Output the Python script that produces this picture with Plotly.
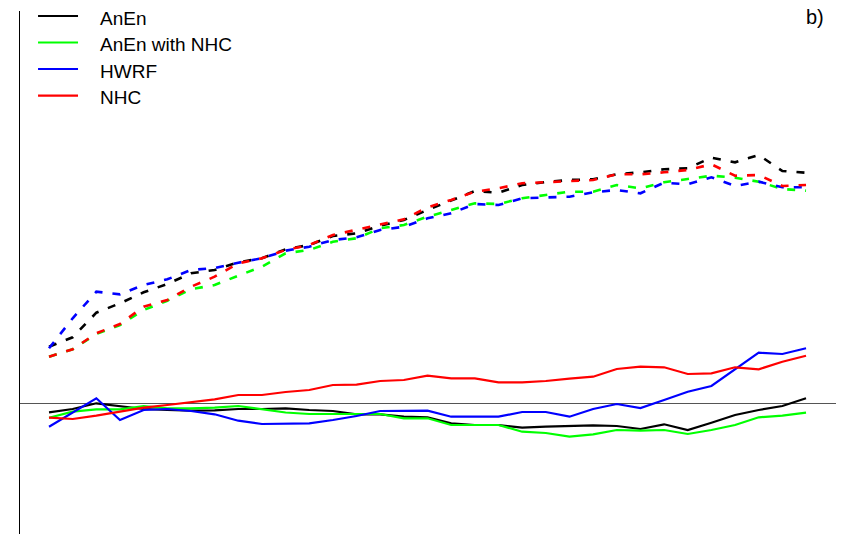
import plotly.graph_objects as go

# Forecast lead time (h)
lead_hours = [0, 3, 6, 9, 12, 15, 18, 21, 24, 27, 30, 33, 36, 39, 42, 45, 48,
              51, 54, 57, 60, 63, 66, 69, 72, 75, 78, 81, 84, 87, 90, 93, 96]

# Bias (solid lines)
anen_bias = [-0.93, -0.60, -0.03, -0.30, -0.60, -0.70, -0.77, -0.73, -0.60, -0.60, -0.53,
             -0.70, -0.80, -1.13, -1.13, -1.37, -1.43, -2.03, -2.20, -2.20, -2.47, -2.37,
             -2.30, -2.23, -2.30, -2.60, -2.13, -2.70, -1.97, -1.20, -0.70, -0.30, 0.47]
anen_nhc_bias = [-1.47, -0.87, -0.63, -0.63, -0.30, -0.53, -0.53, -0.47, -0.30, -0.63, -0.95,
                 -1.10, -1.10, -1.10, -1.10, -1.53, -1.53, -2.20, -2.20, -2.20, -2.87, -3.00,
                 -3.37, -3.13, -2.70, -2.77, -2.70, -3.10, -2.70, -2.20, -1.43, -1.27, -0.97]
hwrf_bias = [-2.37, -0.97, 0.47, -1.70, -0.70, -0.60, -0.80, -1.13, -1.77, -2.10, -2.03,
             -2.03, -1.70, -1.30, -0.80, -0.77, -0.77, -1.37, -1.37, -1.37, -0.90, -0.90,
             -1.37, -0.60, -0.10, -0.50, 0.30, 1.13, 1.70, 3.37, 5.03, 4.90, 5.47]
nhc_bias = [-1.47, -1.60, -1.27, -0.87, -0.47, -0.20, 0.07, 0.37, 0.80, 0.80, 1.10,
            1.30, 1.80, 1.83, 2.20, 2.30, 2.73, 2.47, 2.47, 2.07, 2.07, 2.20,
            2.43, 2.63, 3.40, 3.63, 3.57, 2.90, 2.97, 3.57, 3.37, 4.13, 4.73]

# Mean absolute error (dashed lines)
anen_mae = [5.63, 6.57, 9.03, 9.97, 11.07, 11.90, 12.97, 13.30, 14.07, 14.47, 15.37,
            15.80, 16.70, 16.97, 17.73, 18.30, 19.30, 20.23, 21.20, 21.03, 21.80, 22.10,
            22.30, 22.37, 22.87, 23.07, 23.37, 23.47, 24.53, 24.07, 24.80, 23.20, 23.03]
anen_nhc_mae = [4.63, 5.37, 6.90, 7.80, 9.30, 10.23, 11.37, 11.80, 12.73, 13.63, 14.97,
                15.30, 16.13, 16.47, 17.47, 17.80, 18.63, 19.30, 19.97, 19.90, 20.47, 20.80,
                21.13, 21.13, 21.80, 21.47, 22.07, 22.40, 22.73, 22.53, 22.13, 21.40, 21.23]
hwrf_mae = [5.47, 8.47, 11.13, 10.87, 11.80, 12.37, 13.30, 13.50, 14.03, 14.47, 15.23,
            15.63, 16.30, 16.57, 17.30, 17.63, 18.47, 18.97, 19.90, 19.80, 20.47, 20.57,
            20.63, 21.07, 21.30, 20.97, 22.03, 21.87, 22.57, 21.70, 22.13, 21.57, 21.57]
nhc_mae = [4.63, 5.37, 6.97, 7.90, 9.63, 10.30, 11.63, 12.63, 13.97, 14.47, 15.30,
           15.80, 16.80, 17.30, 17.87, 18.37, 19.57, 20.30, 21.13, 21.47, 21.97, 22.10,
           22.23, 22.30, 22.87, 22.87, 23.07, 23.30, 23.87, 22.73, 22.80, 21.70, 21.80]

names = ["AnEn", "AnEn with NHC", "HWRF", "NHC"]
colors = ["#000000", "#00ff00", "#0000ff", "#ff0000"]
bias_series = [anen_bias, anen_nhc_bias, hwrf_bias, nhc_bias]
mae_series = [anen_mae, anen_nhc_mae, hwrf_mae, nhc_mae]

FONT = "Liberation Sans, Arial, Helvetica, sans-serif"

fig = go.Figure()
for name, color, ys in zip(names, colors, bias_series):
    fig.add_trace(go.Scatter(x=lead_hours, y=ys, mode="lines", name=name,
                             line=dict(color=color, width=2.2), showlegend=False))
for name, color, ys in zip(names, colors, mae_series):
    fig.add_trace(go.Scatter(x=lead_hours, y=ys, mode="lines", name=name + " MAE",
                             line=dict(color=color, width=2.6, dash="8px,10px"),
                             showlegend=False))

# Hand-placed legend in the top-left corner
legend_y = [0.9904, 0.9398, 0.8891, 0.8381]
for name, color, ly in zip(names, colors, legend_y):
    fig.add_shape(type="line", xref="paper", yref="paper",
                  x0=0.0221, x1=0.0711, y0=ly, y1=ly,
                  line=dict(color=color, width=2.2))
    fig.add_annotation(xref="paper", yref="paper", x=0.0956, y=ly - 0.004,
                       xanchor="left", yanchor="middle", showarrow=False,
                       text=name, font=dict(family=FONT, size=19, color="#000000"))

fig.add_annotation(xref="paper", yref="paper", x=0.9877, y=0.9876,
                   xanchor="right", yanchor="middle", showarrow=False,
                   text="b)", font=dict(family=FONT, size=20, color="#000000"))

fig.update_layout(
    width=842, height=553,
    margin=dict(l=20, r=6, t=11, b=19),
    paper_bgcolor="white", plot_bgcolor="white",
    font=dict(family=FONT, color="#000000"),
    xaxis=dict(range=[-3.68, 99.8], showgrid=False, zeroline=False,
               showline=False, showticklabels=False, ticks=""),
    yaxis=dict(range=[-13.1, 39.2], showgrid=False, zeroline=True,
               zerolinecolor="#555555", zerolinewidth=1.2,
               showline=True, linecolor="#000000", linewidth=1,
               showticklabels=False, ticks=""),
)

fig.write_html("out.html")
